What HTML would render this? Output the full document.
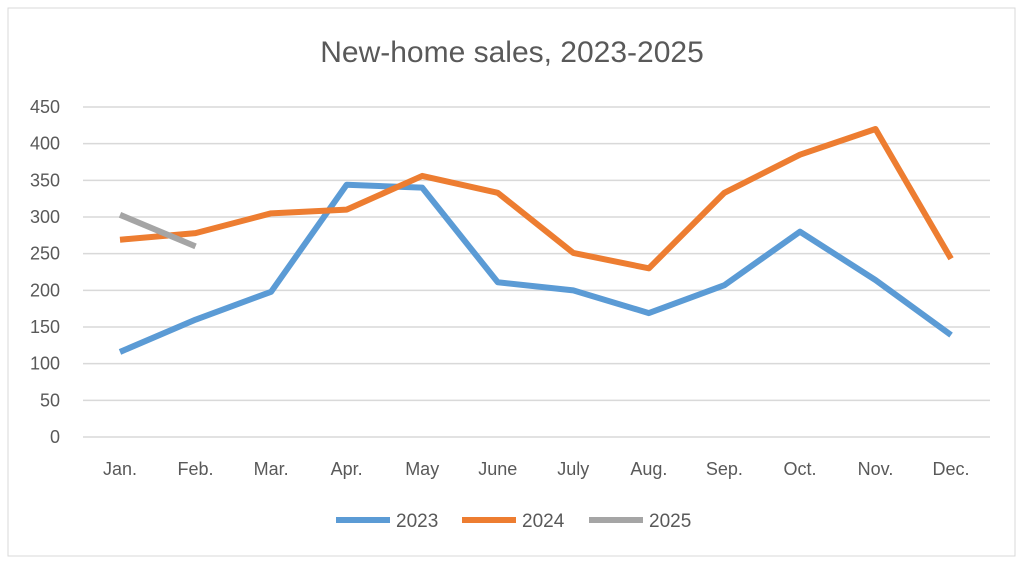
<!DOCTYPE html>
<html><head><meta charset="utf-8"><style>
body{margin:0;background:#fff;}
svg{display:block;font-family:"Liberation Sans",sans-serif;}
</style></head><body>
<svg id="chart" width="1024" height="565">
<rect x="8" y="8" width="1007" height="548" fill="#fff" stroke="#d9d9d9"/>
<text x="512" y="62" text-anchor="middle" font-size="30" fill="#595959">New-home sales, 2023-2025</text>
<g id="grid"></g><g id="xlab"></g><g id="lines"></g>
<g>
<line x1="336" y1="520" x2="390" y2="520" stroke="#5b9bd5" stroke-width="6"/>
<text x="396" y="527" font-size="19" fill="#595959">2023</text>
<line x1="462" y1="520" x2="516" y2="520" stroke="#ed7d31" stroke-width="6"/>
<text x="522" y="527" font-size="19" fill="#595959">2024</text>
<line x1="589" y1="520" x2="643" y2="520" stroke="#a5a5a5" stroke-width="6"/>
<text x="649" y="527" font-size="19" fill="#595959">2025</text>
</g>
</svg>
<script>
const categories=["Jan.","Feb.","Mar.","Apr.","May","June","July","Aug.","Sep.","Oct.","Nov.","Dec."];
const yTicks=[0,50,100,150,200,250,300,350,400,450];
const s2023=[116,160,198,344,340,211,200,169,207,280,214,139];
const s2024=[269,278,305,310,356,333,251,230,333,385,420,243];
const s2025=[303,260];
const NS="http://www.w3.org/2000/svg";
const x=i=>120+i*75.55;
const y=v=>437-v*(330/450);
const grid=document.getElementById('grid');
yTicks.forEach(t=>{
 const l=document.createElementNS(NS,'line');
 l.setAttribute('x1',83);l.setAttribute('x2',990);l.setAttribute('y1',y(t));l.setAttribute('y2',y(t));
 l.setAttribute('stroke','#d9d9d9');l.setAttribute('stroke-width','1.5');
 
 
 grid.appendChild(l);
 const tx=document.createElementNS(NS,'text');
 tx.setAttribute('x',60);tx.setAttribute('y',y(t)+6);tx.setAttribute('text-anchor','end');
 tx.setAttribute('font-size','18');tx.setAttribute('fill','#595959');tx.textContent=t;
 
 
 grid.appendChild(tx);
});
const xl=document.getElementById('xlab');
categories.forEach((c,i)=>{
 const tx=document.createElementNS(NS,'text');
 tx.setAttribute('x',x(i));tx.setAttribute('y',475);tx.setAttribute('text-anchor','middle');
 tx.setAttribute('font-size','18');tx.setAttribute('fill','#595959');tx.textContent=c;
 
 
 xl.appendChild(tx);
});
const lines=document.getElementById('lines');
[[s2023,'#5b9bd5','2023'],[s2024,'#ed7d31','2024'],[s2025,'#a5a5a5','2025']].forEach(([d,c,n])=>{
 const p=document.createElementNS(NS,'polyline');
 p.setAttribute('points',d.map((v,i)=>x(i)+','+y(v)).join(' '));
 p.setAttribute('fill','none');p.setAttribute('stroke',c);p.setAttribute('stroke-width','6');
 p.setAttribute('stroke-linejoin','round');
 
 
 lines.appendChild(p);
});
</script>
</body></html>
